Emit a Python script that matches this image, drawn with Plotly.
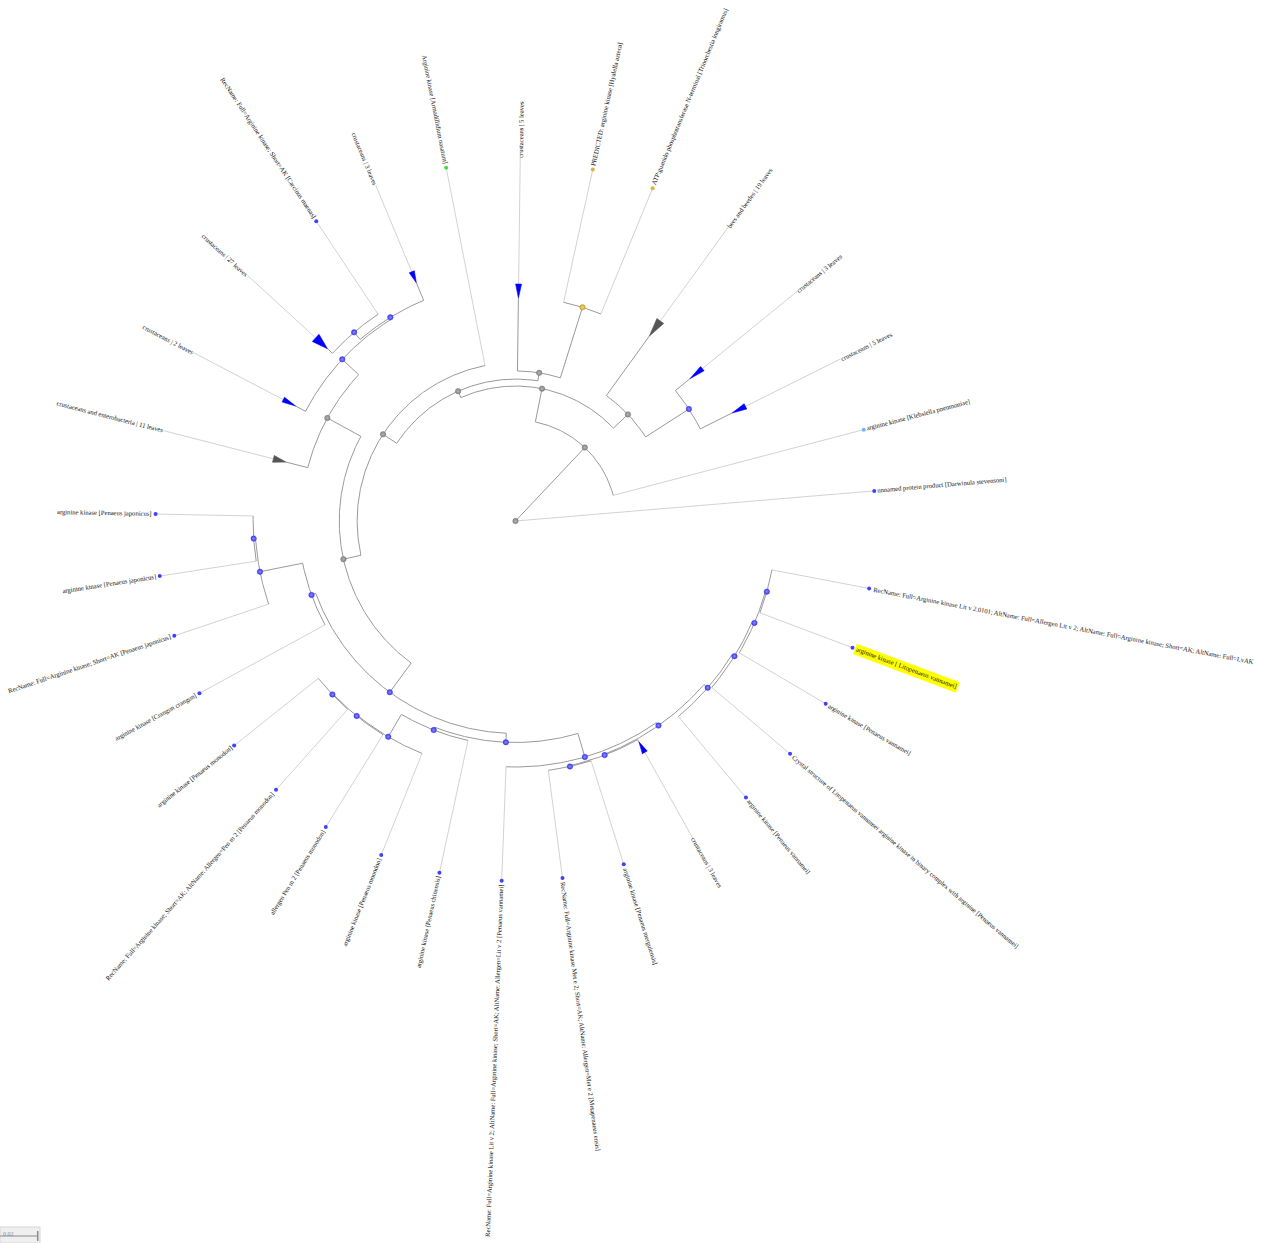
import math
import plotly.graph_objects as go

# ---------------- tree data ----------------
leaf_labels = [
    "RecName: Full=Arginine kinase Lit v 2.0101; AltName: Full=Allergen Lit v 2; AltName: Full=Arginine kinase; Short=AK; AltName: Full=LvAK",
    "arginine kinase [ Litopenaeus vannamei]",
    "arginine kinase [Penaeus vannamei]",
    "Crystal structure of Litopenaeus vannamei arginine kinase in binary complex with arginine [Penaeus vannamei]",
    "arginine kinase [Penaeus vannamei]",
    "crustaceans | 3 leaves",
    "arginine kinase [Penaeus merguiensis]",
    "RecName: Full=Arginine kinase Met e 2; Short=AK; AltName: Allergen=Met e 2 [Metapenaeus ensis]",
    "RecName: Full=Arginine kinase Lit v 2; AltName: Full=Arginine kinase; Short=AK; AltName: Allergen=Lit v 2 [Penaeus vannamei]",
    "arginine kinase [Penaeus chinensis]",
    "arginine kinase [Penaeus monodon]",
    "allergen Pen m 2 [Penaeus monodon]",
    "RecName: Full=Arginine kinase; Short=AK; AltName: Allergen=Pen m 2 [Penaeus monodon]",
    "arginine kinase [Penaeus monodon]",
    "arginine kinase [Crangon crangon]",
    "RecName: Full=Arginine kinase; Short=AK [Penaeus japonicus]",
    "arginine kinase [Penaeus japonicus]",
    "arginine kinase [Penaeus japonicus]",
    "crustaceans and enterobacteria | 11 leaves",
    "crustaceans | 2 leaves",
    "crustaceans | 27 leaves",
    "RecName: Full=Arginine kinase; Short=AK [Carcinus maenas]",
    "crustaceans | 3 leaves",
    "Arginine kinase [Armadillidium nasatum]",
    "crustaceans | 5 leaves",
    "PREDICTED: arginine kinase [Hyalella azteca]",
    "ATP:guanido phosphotransferase N-terminal [Trinorchestia longiramus]",
    "bees and beetles | 19 leaves",
    "crustaceans | 3 leaves",
    "crustaceans | 5 leaves",
    "arginine kinase [Klebsiella pneumoniae]",
    "unnamed protein product [Darwinula stevensoni]",
]

# angular position of every leaf (degrees, clockwise from east)
leaf_angle_deg = [
    10.8, 20.6, 30.5, 40.3, 50.2, 60.8, 72.5, 82.5, 92.2, 102.2,
    111.9, 121.8, 131.7, 141.4, 151.4, 161.4, 171.2, 181.1, 194.4, 207.6,
    222.5, 236.4, 247.4, 258.9, 270.75, 282.4, 292.4, 305.9, 320.8, 333.5,
    345.3, 355.2,
]

# number of sequences hidden in a collapsed clade (0 = single sequence)
leaf_clade_size = [
    0, 0, 0, 0, 0, 3, 0, 0, 0, 0,
    0, 0, 0, 0, 0, 0, 0, 0, 11, 2,
    27, 0, 3, 0, 5, 0, 0, 19, 3, 5,
    0, 0,
]

# collapsed clades: depth of clade root and of its farthest member
clade_near_depth = [
    None, None, None, None, None, 0.1342, None, None, None, None,
    None, None, None, None, None, None, None, None, 0.1257, 0.1316,
    0.1353, None, 0.1369, None, 0.1183, None, None, 0.1210, 0.1194, 0.1284,
    None, None,
]
clade_far_depth = [
    None, None, None, None, None, 0.1406, None, None, None, None,
    None, None, None, None, None, None, None, None, 0.1326, 0.1390,
    0.1438, None, 0.1432, None, 0.1257, None, None, 0.1310, 0.1279, 0.1363,
    None, None,
]

# internal nodes: distance from root and children (int = leaf index)
node_ids = [
    "root", "n1", "n2", "n3", "n4", "n5", "n6", "n7", "n8", "n9",
    "n10", "n11", "n12", "n13", "n14", "n15", "n16", "n17", "n18", "n19",
    "n20", "n21", "n22", "n23", "n24", "n25", "n26", "n27", "n28", "n29",
    "n30",
]
node_depth = [
    0.0, 0.0536, 0.0716, 0.0822, 0.1095, 0.0753, 0.0796, 0.1188, 0.0840, 0.0935,
    0.1138, 0.1317, 0.1268, 0.1257, 0.1127, 0.1151, 0.1382, 0.1392, 0.1338, 0.1334,
    0.1329, 0.1191, 0.1175, 0.1305, 0.1324, 0.1334, 0.1329, 0.1385, 0.1378, 0.1365,
    0.1350,
]
node_children = [
    ["n1", 31], ["n2", 30], ["n5", "n3"], [27, "n4"], [28, 29],
    ["n8", "n6"], [24, "n7"], [25, 26], ["n9", 23], ["n14", "n10"],
    [18, "n13"], [20, 21], ["n11", 22], [19, "n12"], ["n22", "n15"],
    [14, "n16"], [15, "n17"], [16, 17], [12, 13], [11, "n18"],
    [10, "n19"], [9, "n20"], ["n23", "n21"], ["n24", 8], ["n30", "n26"],
    [6, 7], [5, "n25"], [0, 1], ["n27", 2], ["n28", 3],
    ["n29", 4],
]
scale_bar_length = 0.02
highlighted_leaf = 1

# ---------------- styling ----------------
W, H = 1263, 1243
PX = 1885.0            # pixels per unit of branch length
ROOT_X, ROOT_Y = 515.5, 521.0
LEAF_R = 360.0 / PX    # aligned tip radius
TEXT_R = 363.5 / PX    # where tip labels start
FONT = "Liberation Serif, Times New Roman, serif"
FS = 6.6

gray_nodes = {"root", "n1", "n2", "n3", "n5", "n6", "n8", "n9", "n10"}
yellow_nodes = {"n7"}
leaf_dot_color = {23: "#46dc46", 25: "#dcb23c", 26: "#dcb23c", 30: "#6fb2ff"}
clade_fill = {18: "#555555", 27: "#555555"}

TIMES = {' ': 250, '!': 333, '"': 408, '#': 500, '%': 833, '&': 778, "'": 180,
         '(': 333, ')': 333, '*': 500, '+': 564, ',': 250, '-': 333, '.': 250,
         '/': 278, ':': 278, ';': 278, '<': 564, '=': 564, '>': 564, '?': 444,
         'A': 722, 'B': 667, 'C': 667, 'D': 722, 'E': 611, 'F': 556, 'G': 722,
         'H': 722, 'I': 333, 'J': 389, 'K': 722, 'L': 611, 'M': 889, 'N': 722,
         'O': 722, 'P': 556, 'Q': 722, 'R': 667, 'S': 556, 'T': 611, 'U': 722,
         'V': 722, 'W': 944, 'X': 722, 'Y': 722, 'Z': 611, '[': 333, ']': 333,
         '_': 500, 'a': 444, 'b': 500, 'c': 444, 'd': 500, 'e': 444, 'f': 333,
         'g': 500, 'h': 500, 'i': 278, 'j': 278, 'k': 500, 'l': 278, 'm': 778,
         'n': 500, 'o': 500, 'p': 500, 'q': 500, 'r': 333, 's': 389, 't': 278,
         'u': 500, 'v': 500, 'w': 722, 'x': 500, 'y': 500, 'z': 444, '|': 200}


def text_px(s):
    return sum(TIMES.get(ch, 500) for ch in s) / 1000.0 * FS


def pol(d, ang):
    a = math.radians(ang)
    return d * math.cos(a), d * math.sin(a)


# ---------------- layout of the tree ----------------
depth_of = dict(zip(node_ids, node_depth))
kids_of = dict(zip(node_ids, node_children))
angle_of = {}


def node_angle(n):
    if isinstance(n, int):
        return leaf_angle_deg[n]
    if n not in angle_of:
        a = [node_angle(c) for c in kids_of[n]]
        angle_of[n] = (min(a) + max(a)) / 2.0
    return angle_of[n]


for nid in node_ids:
    node_angle(nid)

dark_x, dark_y, light_x, light_y = [], [], [], []


def radial(xs, ys, d0, d1, ang):
    x0, y0 = pol(d0, ang)
    x1, y1 = pol(d1, ang)
    xs += [x0, x1, None]
    ys += [y0, y1, None]


def arc(xs, ys, d, a0, a1):
    n = max(2, int(abs(a1 - a0) / 0.4) + 1)
    for k in range(n):
        x, y = pol(d, a0 + (a1 - a0) * k / (n - 1))
        xs.append(x)
        ys.append(y)
    xs.append(None)
    ys.append(None)


tri = {}
for nid in node_ids:
    d = depth_of[nid]
    kids = kids_of[nid]
    angs = [node_angle(c) for c in kids]
    if d > 0:
        arc(dark_x, dark_y, d, min(angs), max(angs))
    for c, a in zip(kids, angs):
        if isinstance(c, str):
            radial(dark_x, dark_y, d, depth_of[c], a)
        elif leaf_clade_size[c]:
            near, far = clade_near_depth[c], clade_far_depth[c]
            radial(dark_x, dark_y, d, near, a)
            radial(light_x, light_y, far, TEXT_R, a)
            hw = (2.5 + 0.09 * leaf_clade_size[c]) / PX
            ax, ay = pol(near, a)
            bx, by = pol(far, a)
            nx, ny = -math.sin(math.radians(a)) * hw, math.cos(math.radians(a)) * hw
            col = clade_fill.get(c, "#0000ff")
            tri.setdefault(col, ([], []))
            tri[col][0].extend([ax, bx + nx, bx - nx, ax, None])
            tri[col][1].extend([ay, by + ny, by - ny, ay, None])
        else:
            radial(light_x, light_y, d, LEAF_R, a)

fig = go.Figure()
fig.add_trace(go.Scatter(x=light_x, y=light_y, mode="lines",
                         line=dict(color="#cdcdcd", width=0.9), hoverinfo="skip"))
fig.add_trace(go.Scatter(x=dark_x, y=dark_y, mode="lines",
                         line=dict(color="#9a9a9a", width=1), hoverinfo="skip"))
for col, (tx, ty) in tri.items():
    fig.add_trace(go.Scatter(x=tx, y=ty, mode="lines", fill="toself", fillcolor=col,
                             line=dict(color=col, width=0.6), hoverinfo="skip"))

# internal node dots (small shaded spheres)
nx_, ny_, ncol, nline, nglow = [], [], [], [], []
for nid in node_ids:
    x, y = pol(depth_of[nid], angle_of[nid])
    nx_.append(x)
    ny_.append(y)
    if nid in gray_nodes:
        ncol.append("#858585"); nline.append("#6e6e6e"); nglow.append("#b4b4b4")
    elif nid in yellow_nodes:
        ncol.append("#d6ac30"); nline.append("#b89020"); nglow.append("#f0d47a")
    else:
        ncol.append("#3a3aff"); nline.append("#3030d8"); nglow.append("#8c8cff")
fig.add_trace(go.Scatter(x=nx_, y=ny_, mode="markers", hoverinfo="skip",
                         marker=dict(size=5.5, color=ncol, line=dict(color=nline, width=0.4),
                                     gradient=dict(type="radial", color=nglow))))

# tip dots
lx, ly, lcol = [], [], []
for i, a in enumerate(leaf_angle_deg):
    if leaf_clade_size[i]:
        continue
    x, y = pol(LEAF_R, a)
    lx.append(x)
    ly.append(y)
    lcol.append(leaf_dot_color.get(i, "#4040ff"))
fig.add_trace(go.Scatter(x=lx, y=ly, mode="markers", hoverinfo="skip",
                         marker=dict(size=4, color=lcol, line=dict(width=0))))

# tip labels, rotated along their radius
for i, (lab, a) in enumerate(zip(leaf_labels, leaf_angle_deg)):
    L = text_px(lab)
    cx, cy = pol(TEXT_R + (L / 2.0) / PX, a)
    a_norm = a % 360
    rot = a_norm if (a_norm < 90 or a_norm > 270) else a_norm - 180
    ann = dict(x=cx, y=cy, xref="x", yref="y", text=lab, showarrow=False,
               textangle=rot, xanchor="center", yanchor="middle",
               font=dict(family=FONT, size=FS, color="#111111"), borderpad=0)
    if i == highlighted_leaf:
        ann["bgcolor"] = "#ffff00"
        ann["borderpad"] = 0.8
    fig.add_annotation(**ann)

# scale bar
x_min = -ROOT_X / PX
fig.add_shape(type="rect", xref="paper", yref="paper", x0=0, x1=40 / W,
              y0=0, y1=16 / H, fillcolor="#efefef", line=dict(color="#d6d6d6", width=1))
fig.add_shape(type="line", xref="x", yref="paper", x0=x_min, x1=x_min + scale_bar_length,
              y0=7 / H, y1=7 / H, line=dict(color="#8c8c8c", width=1))
fig.add_shape(type="line", xref="x", yref="paper", x0=x_min + scale_bar_length,
              x1=x_min + scale_bar_length, y0=2 / H, y1=12 / H,
              line=dict(color="#8c8c8c", width=1.5))
fig.add_annotation(x=1 / W, y=14 / H, xref="paper", yref="paper", text="0.02",
                   showarrow=False, xanchor="left", yanchor="top",
                   font=dict(family=FONT, size=6, color="#8a8a8a"))

fig.update_layout(
    width=W, height=H, margin=dict(l=0, r=0, t=0, b=0),
    paper_bgcolor="white", plot_bgcolor="white", showlegend=False,
    xaxis=dict(range=[-ROOT_X / PX, (W - ROOT_X) / PX], visible=False, fixedrange=True),
    yaxis=dict(range=[(H - ROOT_Y) / PX, -ROOT_Y / PX], visible=False, fixedrange=True),
)

fig.write_html("out.html")
